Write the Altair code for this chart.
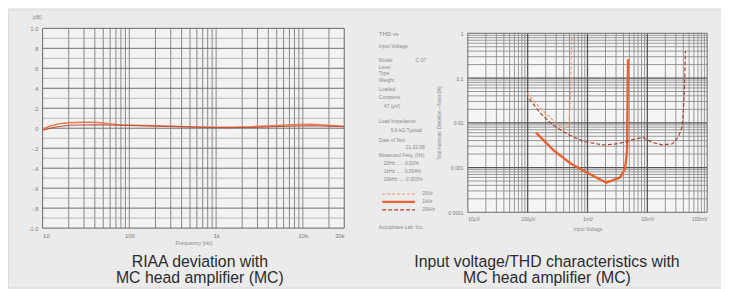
import json
import altair as alt
import pandas as pd

# ---------------- Left panel: RIAA deviation ----------------
riaa_freq_a = [10, 12, 15.6, 20, 30, 41, 51, 75, 112, 216, 475, 914, 1540, 2620, 4440, 7500, 12700, 18900, 30000]
riaa_dev_a = [-0.01, 0.02, 0.045, 0.055, 0.06, 0.06, 0.05, 0.035, 0.03, 0.025, 0.015, 0.01, 0.01, 0.015, 0.025, 0.035, 0.04, 0.03, 0.02]
riaa_freq_b = [10, 13.7, 20, 41, 75, 216, 620, 1350, 3000, 6500, 12600, 30000]
riaa_dev_b = [-0.02, 0.01, 0.03, 0.035, 0.03, 0.02, 0.01, 0.005, 0.01, 0.02, 0.025, 0.015]
riaa_x_ticks = [10, 100, 1000, 10000, 30000]
riaa_x_labels = ["10", "100", "1k", "10k", "30k"]
riaa_y_ticks = [1.0, 0.8, 0.6, 0.4, 0.2, 0.0, -0.2, -0.4, -0.6, -0.8, -1.0]
riaa_y_labels = ["1.0", ".8", ".6", ".4", ".2", "0", "-.2", "-.4", "-.6", "-.8", "-1.0"]
riaa_grid_freq = [20, 30, 40, 50, 60, 70, 80, 90, 100, 200, 300, 400, 500, 600, 700, 800, 900,
                  1000, 2000, 3000, 4000, 5000, 6000, 7000, 8000, 9000, 10000, 20000]
riaa_grid_minor = [0.9, 0.7, 0.5, 0.3, 0.1, -0.1, -0.3, -0.5, -0.7, -0.9]
riaa_grid_major = [0.8, 0.6, 0.4, 0.2, 0.0, -0.2, -0.4, -0.6, -0.8]

# ---------------- Right panel: Input voltage / THD ----------------
thd_series = ["20Hz", "1kHz", "20kHz"]
thd_colors = ["#ee9468", "#e8622f", "#a8442c"]
thd_dashes = [[3, 2], [1, 0], [4, 2]]
thd_widths = [1.1, 2.4, 1.2]
thd_20hz_mv = [0.098, 0.167, 0.274, 0.40, 0.485, 0.525, 0.544]
thd_20hz_pct = [0.046, 0.0204, 0.011, 0.0074, 0.0081, 0.051, 0.9]
thd_1k_mv = [0.138, 0.274, 0.524, 0.962, 2.06, 3.51, 4.25, 4.58, 4.76]
thd_1k_pct = [0.0060, 0.0024, 0.00123, 0.00078, 0.00046, 0.0006, 0.00095, 0.0024, 0.264]
thd_20k_mv = [0.106, 0.167, 0.274, 0.45, 0.86, 1.84, 3.25, 5.75, 8.43, 12.3, 18.0, 26.4, 33.2, 38.6, 41.7, 43.3]
thd_20k_pct = [0.0341, 0.0158, 0.00858, 0.0057, 0.0038, 0.0032, 0.0034, 0.0042, 0.0047, 0.0036, 0.0032,
               0.0034, 0.0049, 0.0086, 0.051, 0.40]
thd_x_ticks = [0.01, 0.1, 1, 10, 100]
thd_x_labels = ["10μV", "100μV", "1mV", "10mV", "100mV"]
thd_y_ticks = [0.0001, 0.001, 0.01, 0.1, 1]
thd_y_labels = ["0.0001", "0.001", "0.01", "0.1", "1"]
thd_grid_mv_minor = [0.02, 0.03, 0.04, 0.05, 0.06, 0.07, 0.08, 0.09,
                     0.2, 0.3, 0.4, 0.5, 0.6, 0.7, 0.8, 0.9,
                     2, 3, 4, 5, 6, 7, 8, 9,
                     20, 30, 40, 50, 60, 70, 80, 90]
thd_grid_mv_major = [0.1, 1, 10]
thd_grid_pct_minor = [0.0002, 0.0003, 0.0004, 0.0005, 0.0006, 0.0007, 0.0008, 0.0009,
                      0.002, 0.003, 0.004, 0.005, 0.006, 0.007, 0.008, 0.009,
                      0.02, 0.03, 0.04, 0.05, 0.06, 0.07, 0.08, 0.09,
                      0.2, 0.3, 0.4, 0.5, 0.6, 0.7, 0.8, 0.9]
thd_grid_pct_major = [0.001, 0.01, 0.1]

info_lines = ["THD vs", "Input Voltage", "Model", "Level", "Type", "Weight", "Loaded", "Compens.",
              "47  (μV)", "Load Impedance", "5.6 kΩ  Typical", "Date of Test", "21.02.08",
              "Measured Freq. (Hz)", "20Hz ..... 0.02%", "1kHz ..... 0.004%", "20kHz .... 0.003%",
              "Accuphase Lab. Inc."]
captions_left = ["RIAA deviation with", "MC head amplifier (MC)"]
captions_right = ["Input voltage/THD characteristics with", "MC head amplifier (MC)"]

W, H = 721, 281
FONT = "Liberation Sans"
SCAN = "#8a8a8a"
dummy = pd.DataFrame({"k": [0]})


def lab_expr(vals, labels):
    return f"{json.dumps(labels)}[indexof({json.dumps(vals)}, datum.value)]"


# ---- left scales / axes
lx_scale = alt.Scale(type="log", domain=[10, 30000], range=[35, 340], nice=False)
ly_scale = alt.Scale(domain=[-1, 1], range=[221, 19], nice=False, zero=False)
lx_axis = alt.Axis(values=riaa_x_ticks, labelExpr=lab_expr(riaa_x_ticks, riaa_x_labels), orient="bottom",
                   offset=-(H - 221), domain=False, ticks=False, grid=False, labelPadding=4, labelFontSize=6,
                   labelColor="#7a7a7a", labelOverlap=False, title="Frequency [Hz]", titleFontSize=5.5,
                   titleFontWeight="normal", titleColor=SCAN, titlePadding=3)
ly_axis = alt.Axis(values=riaa_y_ticks, labelExpr=lab_expr(riaa_y_ticks, riaa_y_labels), orient="left",
                   offset=-35, domain=False, ticks=False, grid=False, labelPadding=5, labelFontSize=5.5,
                   labelColor="#7a7a7a", labelOverlap=False, title=None)


def lx(field=None, datum=None):
    if datum is not None:
        return alt.XDatum(datum, scale=lx_scale, axis=lx_axis)
    return alt.X(field, scale=lx_scale, axis=lx_axis)


def ly(field=None, datum=None):
    if datum is not None:
        return alt.YDatum(datum, scale=ly_scale, axis=ly_axis)
    return alt.Y(field, scale=ly_scale, axis=ly_axis)


left_bg = alt.Chart(dummy).mark_rect(fill="#f3f3f3").encode(
    x=lx(datum=10), x2=alt.X2Datum(30000), y=ly(datum=-1), y2=alt.Y2Datum(1))
left_vgrid = alt.Chart(pd.DataFrame({"f": riaa_grid_freq})).mark_rule(color="#7a7a7a", strokeWidth=0.9).encode(
    x=lx("f:Q"), y=ly(datum=-1), y2=alt.Y2Datum(1))
left_hminor = alt.Chart(pd.DataFrame({"v": riaa_grid_minor})).mark_rule(color="#a8a8a8", strokeWidth=0.8).encode(
    y=ly("v:Q"), x=lx(datum=10), x2=alt.X2Datum(30000))
left_hmajor = alt.Chart(pd.DataFrame({"v": riaa_grid_major})).mark_rule(color="#6e6e6e", strokeWidth=1).encode(
    y=ly("v:Q"), x=lx(datum=10), x2=alt.X2Datum(30000))
left_frame = alt.Chart(dummy).mark_rect(fill=None, stroke="#666666", strokeWidth=1).encode(
    x=lx(datum=10), x2=alt.X2Datum(30000), y=ly(datum=-1), y2=alt.Y2Datum(1))
left_line_a = alt.Chart(pd.DataFrame({"f": riaa_freq_a, "d": riaa_dev_a})).mark_line(
    color="#ec7a50", strokeWidth=1.7).encode(x=lx("f:Q"), y=ly("d:Q"))
left_line_b = alt.Chart(pd.DataFrame({"f": riaa_freq_b, "d": riaa_dev_b})).mark_line(
    color="#b5533a", strokeWidth=1.2).encode(x=lx("f:Q"), y=ly("d:Q"))

left = alt.layer(left_bg, left_vgrid, left_hminor, left_hmajor, left_frame, left_line_a, left_line_b)

# ---- right scales / axes
rx_scale = alt.Scale(type="log", domain=[0.01, 100], range=[465, 707], nice=False)
ry_scale = alt.Scale(type="log", domain=[0.0001, 1], range=[205, 24], nice=False)
rx_axis = alt.Axis(values=thd_x_ticks, labelExpr=lab_expr(thd_x_ticks, thd_x_labels), orient="bottom",
                   offset=-(H - 205), domain=False, ticks=False, grid=False, labelPadding=4, labelFontSize=5,
                   labelColor="#7a7a7a", labelOverlap=False, labelFlush=True, title="Input Voltage",
                   titleFontSize=5, titleFontWeight="normal", titleColor=SCAN, titlePadding=5)
ry_axis = alt.Axis(values=thd_y_ticks, labelExpr=lab_expr(thd_y_ticks, thd_y_labels), orient="left",
                   offset=-465, domain=False, ticks=False, grid=False, labelPadding=5, labelFontSize=5,
                   labelColor="#7a7a7a", labelOverlap=False, title="Total Harmonic Distortion + Noise  [%]",
                   titleFontSize=4.5, titleFontWeight="normal", titleColor=SCAN, titlePadding=6)


def rx(field=None, datum=None):
    if datum is not None:
        return alt.XDatum(datum, scale=rx_scale, axis=rx_axis)
    return alt.X(field, scale=rx_scale, axis=rx_axis)


def ry(field=None, datum=None):
    if datum is not None:
        return alt.YDatum(datum, scale=ry_scale, axis=ry_axis)
    return alt.Y(field, scale=ry_scale, axis=ry_axis)


right_bg = alt.Chart(dummy).mark_rect(fill="#f5f5f5").encode(
    x=rx(datum=0.01), x2=alt.X2Datum(100), y=ry(datum=0.0001), y2=alt.Y2Datum(1))
right_vminor = alt.Chart(pd.DataFrame({"m": thd_grid_mv_minor})).mark_rule(color="#8c8c8c", strokeWidth=0.9).encode(
    x=rx("m:Q"), y=ry(datum=0.0001), y2=alt.Y2Datum(1))
right_vmajor = alt.Chart(pd.DataFrame({"m": thd_grid_mv_major})).mark_rule(color="#555555", strokeWidth=1.3).encode(
    x=rx("m:Q"), y=ry(datum=0.0001), y2=alt.Y2Datum(1))
right_hminor = alt.Chart(pd.DataFrame({"p": thd_grid_pct_minor})).mark_rule(color="#8c8c8c", strokeWidth=0.9).encode(
    y=ry("p:Q"), x=rx(datum=0.01), x2=alt.X2Datum(100))
right_hmajor = alt.Chart(pd.DataFrame({"p": thd_grid_pct_major})).mark_rule(color="#555555", strokeWidth=1.3).encode(
    y=ry("p:Q"), x=rx(datum=0.01), x2=alt.X2Datum(100))
right_frame = alt.Chart(dummy).mark_rect(fill=None, stroke="#6a6a6a", strokeWidth=1).encode(
    x=rx(datum=0.01), x2=alt.X2Datum(100), y=ry(datum=0.0001), y2=alt.Y2Datum(1))

rows = []
for name, xs, ys in [("20Hz", thd_20hz_mv, thd_20hz_pct), ("1kHz", thd_1k_mv, thd_1k_pct),
                     ("20kHz", thd_20k_mv, thd_20k_pct)]:
    for i, (a, b) in enumerate(zip(xs, ys)):
        rows.append({"series": name, "mv": a, "pct": b, "i": i})
thd_df = pd.DataFrame(rows)

thd_legend = alt.Legend(orient="none", legendX=377, legendY=183, title=None, symbolType="stroke",
                        symbolSize=1089, clipHeight=7, rowPadding=1, padding=0, labelFontSize=4.5,
                        labelColor=SCAN, labelFont=FONT, labelOffset=6, direction="vertical")
right_lines = alt.Chart(thd_df).mark_line(interpolate="linear").encode(
    x=rx("mv:Q"), y=ry("pct:Q"),
    color=alt.Color("series:N", scale=alt.Scale(domain=thd_series, range=thd_colors), legend=thd_legend),
    strokeDash=alt.StrokeDash("series:N", scale=alt.Scale(domain=thd_series, range=thd_dashes), legend=thd_legend),
    strokeWidth=alt.StrokeWidth("series:N", scale=alt.Scale(type="ordinal", domain=thd_series, range=thd_widths),
                                legend=thd_legend),
    order=alt.Order("i:Q"),
)

right = alt.layer(right_bg, right_vminor, right_hminor, right_vmajor, right_hmajor, right_frame, right_lines)


# ---- annotations
def note(text, x, y, size=5.0, color=SCAN, align="left", baseline="middle"):
    return alt.Chart(dummy).mark_text(text=text, fontSize=size, color=color, align=align, baseline=baseline,
                                      font=FONT).encode(x=alt.value(x), y=alt.value(y))


info_y = [25, 37, 51, 58, 64, 71, 80, 88, 98, 113, 122, 132, 139, 147, 155, 163, 171, 220]
info_x = [375, 375, 375, 375, 375, 375, 375, 375, 380, 375, 387, 375, 402, 375, 380, 380, 380, 375]
notes = [note(t, x, y, size=(6 if k == 0 else 5)) for k, (t, x, y) in enumerate(zip(info_lines, info_x, info_y))]
notes.append(note("C-37", 412, 51))
notes.append(note("[dB]", 25, 8, size=5))

cap_color = "#2b2b2b"
caps = [
    note(captions_left[0], 194, 260, size=16, color=cap_color, align="center", baseline="alphabetic"),
    note(captions_left[1], 194, 277, size=16, color=cap_color, align="center", baseline="alphabetic"),
    note(captions_right[0], 545, 260, size=16, color=cap_color, align="center", baseline="alphabetic"),
    note(captions_right[1], 545, 277, size=16, color=cap_color, align="center", baseline="alphabetic"),
]

chart = alt.layer(left, right, *notes, *caps).resolve_scale(
    x="independent", y="independent"
).resolve_axis(
    x="independent", y="independent"
).properties(
    width=W, height=H, padding=0, background="#ebebeb",
    autosize=alt.AutoSizeParams(type="none"),
).configure_view(stroke=None).configure(font=FONT)

chart.save("out.html", embed_options={"renderer": "svg", "actions": False})
